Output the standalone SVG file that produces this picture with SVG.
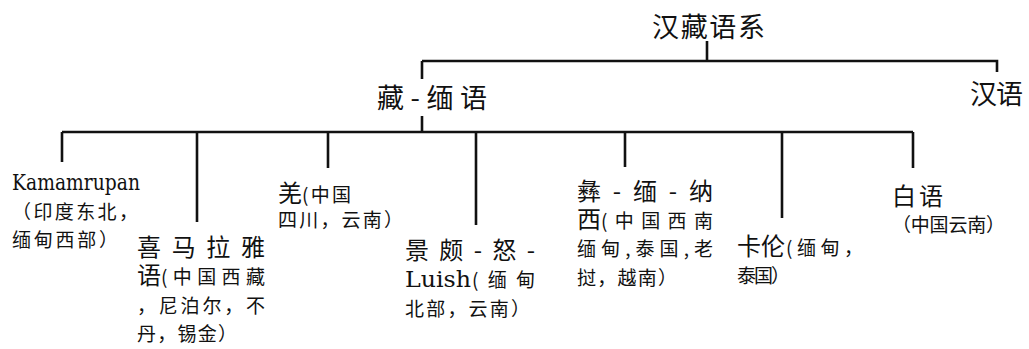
<svg xmlns="http://www.w3.org/2000/svg" width="1029" height="349" viewBox="0 0 1029 349">
<style>
.bg{fill:#ffffff}
.c{fill:none;stroke:#111;stroke-width:2.6}
text{fill:#111}
.big{font-family:"Noto Sans CJK SC","Noto Sans",sans-serif;font-size:24px}
.top{font-family:"Noto Sans CJK SC","Noto Sans",sans-serif;font-size:27px}
.sm{font-family:"Noto Sans CJK SC","Noto Sans",sans-serif;font-size:19px}
.lat{font-family:"DejaVu Serif","Liberation Serif",serif;font-size:23px}
</style>
<rect class="bg" x="0" y="0" width="1029" height="349"/>
<g id="connectors">
<path class="c" d="M707 41V61M422 61H997V72M422 61V79M422 116V132M62 132H913"/>
<path class="c" d="M62 132V162M197 132V222M328 132V168M476 132V225M625 132V167M782 132V218M913 132V168"/>
</g>
<g id="n-sinotibetan"><text class="top" x="652" y="37" textLength="113" lengthAdjust="spacing">汉藏语系</text></g>
<g id="n-tibetoburman"><text class="top" x="377" y="108" textLength="110" lengthAdjust="spacing">藏-缅语</text></g>
<g id="n-chinese"><text class="top" x="970" y="104" textLength="53" lengthAdjust="spacing">汉语</text></g>
<g id="n-kamarupan">
<text class="lat" x="12" y="190" textLength="128" lengthAdjust="spacingAndGlyphs">Kamamrupan</text>
<text class="sm" x="12" y="219" textLength="126" lengthAdjust="spacing">（印度东北，</text>
<text class="sm" x="12" y="247" textLength="106" lengthAdjust="spacing">缅甸西部）</text>
</g>
<g id="n-himalayan">
<text class="big" x="137" y="256" textLength="128" lengthAdjust="spacing">喜马拉雅</text>
<text class="big" x="137" y="284">语</text>
<text class="sm" x="161" y="284" textLength="104" lengthAdjust="spacing">(中国西藏</text>
<text class="sm" x="137" y="313" textLength="128" lengthAdjust="spacing">，尼泊尔，不</text>
<text class="sm" x="137" y="341" textLength="100" lengthAdjust="spacing">丹，锡金）</text>
</g>
<g id="n-qiang">
<text class="big" x="278" y="202">羌</text>
<text class="sm" x="302" y="202" textLength="49" lengthAdjust="spacing">(中国</text>
<text class="sm" x="278" y="227" textLength="125" lengthAdjust="spacing">四川，云南）</text>
</g>
<g id="n-jingpo">
<text class="big" x="405" y="259" textLength="130" lengthAdjust="spacing">景颇-怒-</text>
<text class="lat" x="405" y="287" textLength="66" lengthAdjust="spacingAndGlyphs">Luish</text>
<text class="sm" x="472" y="287" textLength="63" lengthAdjust="spacing">(缅甸</text>
<text class="sm" x="405" y="316" textLength="125" lengthAdjust="spacing">北部，云南）</text>
</g>
<g id="n-yi">
<text class="big" x="577" y="200" textLength="136" lengthAdjust="spacing">彝-缅-纳</text>
<text class="big" x="577" y="228">西</text>
<text class="sm" x="601" y="228" textLength="112" lengthAdjust="spacing">(中国西南</text>
<text class="sm" x="577" y="256" textLength="136" lengthAdjust="spacing">缅甸,泰国,老</text>
<text class="sm" x="577" y="285" textLength="100" lengthAdjust="spacing">挝，越南）</text>
</g>
<g id="n-karen">
<text class="big" x="737" y="255" textLength="48" lengthAdjust="spacing">卡伦</text>
<text class="sm" x="786" y="255" textLength="77" lengthAdjust="spacing">(缅甸，</text>
<text class="sm" x="737" y="283" textLength="53" lengthAdjust="spacing">泰国）</text>
</g>
<g id="n-bai">
<text class="big" x="892" y="205" textLength="51" lengthAdjust="spacing">白语</text>
<text class="sm" x="892" y="232" textLength="113" lengthAdjust="spacing">（中国云南）</text>
</g>
</svg>
